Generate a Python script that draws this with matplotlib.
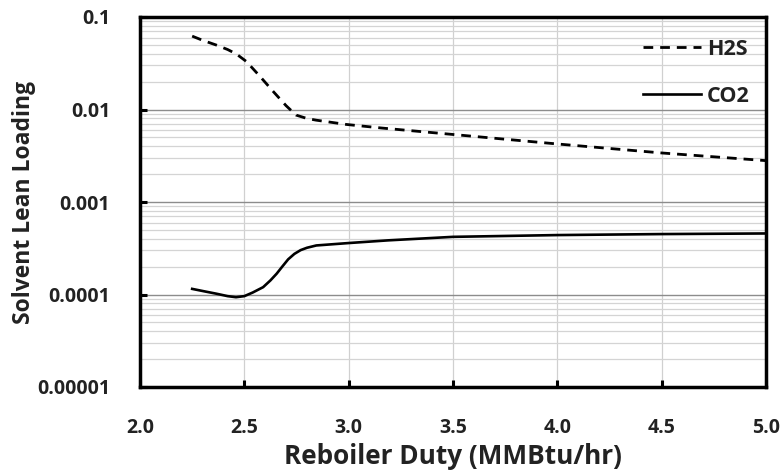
import matplotlib
matplotlib.use("Agg")
import matplotlib.pyplot as plt
from matplotlib.ticker import LogLocator, FixedLocator, NullFormatter

plt.rcParams['font.family'] = ['Open Sans', 'DejaVu Sans']

# reboiler duty (MMBtu/hr) vs lean loading
h2s_x = [2.25, 2.30, 2.366, 2.42, 2.462, 2.51, 2.575, 2.638, 2.70, 2.748, 2.80, 2.844,
         2.987, 3.16, 3.5, 4.0, 4.5, 5.0]
h2s_y = [0.0621, 0.056, 0.0497, 0.0445, 0.0398, 0.033, 0.0228, 0.0157, 0.011, 0.0087,
         0.0080, 0.00767, 0.0069, 0.0063, 0.00537, 0.00424, 0.00339, 0.0028]

co2_x = [2.25, 2.31, 2.366, 2.42, 2.46, 2.50, 2.54, 2.59, 2.625, 2.655, 2.68, 2.71, 2.74,
         2.77, 2.80, 2.845, 3.0, 3.19, 3.5, 4.0, 4.5, 5.0]
co2_y = [1.15e-4, 1.08e-4, 1.02e-4, 0.96e-4, 0.935e-4, 0.96e-4, 1.05e-4, 1.2e-4, 1.42e-4,
         1.68e-4, 1.98e-4, 2.4e-4, 2.75e-4, 3.02e-4, 3.2e-4, 3.39e-4, 3.6e-4, 3.85e-4,
         4.2e-4, 4.39e-4, 4.5e-4, 4.57e-4]

x_ticks = [2.0, 2.5, 3.0, 3.5, 4.0, 4.5, 5.0]
y_ticks = [1e-5, 1e-4, 1e-3, 1e-2, 1e-1]
y_labels = ['0.00001', '0.0001', '0.001', '0.01', '0.1']

W, H = 780, 474
fig = plt.figure(figsize=(W / 100, H / 100), dpi=100)
ax = fig.add_axes([140 / W, 1 - 387 / H, 626 / W, 370 / H])

ax.plot(h2s_x, h2s_y, color='black', lw=2.0, ls=(0, (3.5, 2.5)), label='H2S')
ax.plot(co2_x, co2_y, color='black', lw=1.9, label='CO2')

ax.set_yscale('log')
ax.set_xlim(2.0, 5.0)
ax.set_ylim(1e-5, 0.1)

ax.set_xticks(x_ticks)
ax.set_xticklabels([f'{v:.1f}' for v in x_ticks])
ax.yaxis.set_major_locator(FixedLocator(y_ticks))
ax.set_yticklabels(y_labels)
ax.yaxis.set_minor_locator(LogLocator(base=10, subs=range(2, 10)))
ax.yaxis.set_minor_formatter(NullFormatter())

ax.grid(True, which='major', axis='x', color='#d0d0d0', lw=0.9)
ax.grid(True, which='major', axis='y', color='#8c8c8c', lw=1.0)
ax.grid(True, which='minor', axis='y', color='#d4d4d4', lw=0.9)
ax.set_axisbelow(True)

for s in ax.spines.values():
    s.set_linewidth(2.5)
    s.set_color('black')

ax.tick_params(which='major', direction='in', length=5, width=2.2, labelsize=14)
ax.tick_params(axis='y', pad=21.5)
ax.tick_params(axis='x', pad=22)
ax.tick_params(which='minor', length=0)
for lab in ax.get_xticklabels() + ax.get_yticklabels():
    lab.set_fontweight('bold')
    lab.set_color('#222222')

ax.set_xlabel('Reboiler Duty (MMBtu/hr)', fontsize=18.8, fontweight='bold',
              color='#222222', labelpad=4)
ax.set_ylabel('Solvent Lean Loading', fontsize=16.5, fontweight='bold',
              color='#222222', labelpad=1)

leg = ax.legend(loc='upper right', bbox_to_anchor=(750 / W, 1 - 39 / H),
                bbox_transform=fig.transFigure, frameon=False, fontsize=15.5,
                handlelength=2.7, handletextpad=0.3, labelspacing=1.2,
                borderpad=0, borderaxespad=0)
for t in leg.get_texts():
    t.set_fontweight('bold')
    t.set_color('#222222')

fig.savefig('out.png', dpi=100)
